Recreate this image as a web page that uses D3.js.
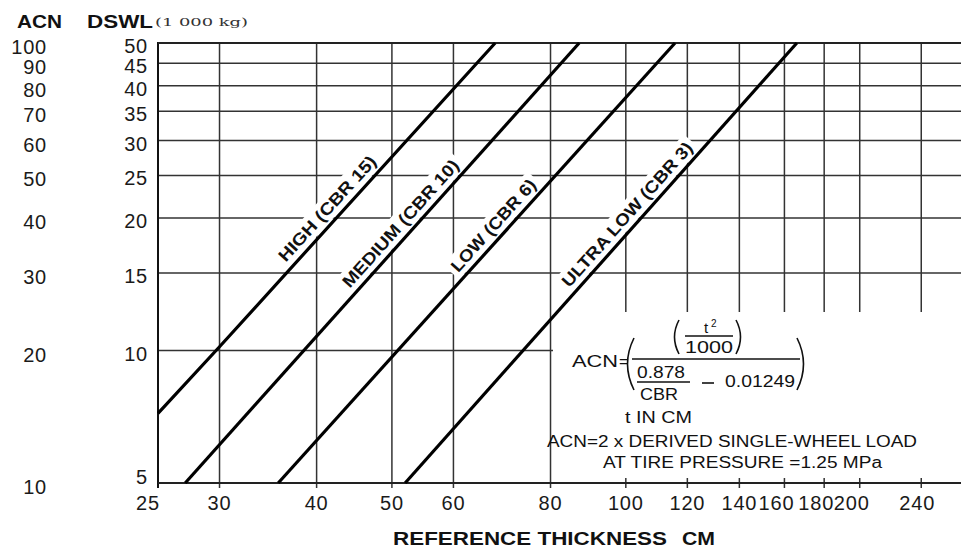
<!DOCTYPE html>
<html><head><meta charset="utf-8">
<script src="https://cdn.jsdelivr.net/npm/d3@7"></script>
<style>body{margin:0;background:#fff}svg{display:block}</style>
</head><body><svg id="c" width="961" height="548"></svg>
<script>
// ---- data ----
const xTicks = [25,30,40,50,60,80,100,120,140,160,180,200,240];
const dswlTicks = [5,10,15,20,25,30,35,40,45,50];
const acnTicks = [10,20,30,40,50,60,70,80,90,100];
const seriesNames = ["HIGH (CBR 15)","MEDIUM (CBR 10)","LOW (CBR 6)","ULTRA LOW (CBR 3)"];
const seriesThickness = [[25,30,67.9],[27.1,87.1],[35.7,115.7],[52,166]];
const seriesDSWL = [[7.2,10.2,50],[5,50],[5,50],[5,50]];

// ---- layout ----
const svg = d3.select("#c");
const x = d3.scaleLog().domain([25,270]).range([158,961]);
const y = d3.scaleLog().domain([5,50]).range([483,43]);
const FONT = "'Liberation Sans', Arial, sans-serif";
const GRID = "#333";

const g = svg.append("g");
// vertical grid
g.selectAll("line.v").data(xTicks.slice(1)).join("line")
  .attr("x1",d=>x(d)).attr("x2",d=>x(d)).attr("y1",y(50)).attr("y2",y(5)+5)
  .attr("stroke",GRID).attr("stroke-width",1.5);
// horizontal grid
g.selectAll("line.h").data(dswlTicks.slice(1)).join("line")
  .attr("x1",x(25)).attr("x2",961).attr("y1",d=>y(d)).attr("y2",d=>y(d))
  .attr("stroke",GRID).attr("stroke-width",1.5);
// axes
g.append("line").attr("x1",x(25)).attr("x2",x(25)).attr("y1",y(50)-1).attr("y2",y(5)+5)
  .attr("stroke","#111").attr("stroke-width",2);
g.append("line").attr("x1",x(25)).attr("x2",961).attr("y1",y(5)).attr("y2",y(5))
  .attr("stroke","#222").attr("stroke-width",1.8);
g.append("line").attr("x1",x(25)).attr("x2",961).attr("y1",y(50)).attr("y2",y(50))
  .attr("stroke","#222").attr("stroke-width",1.8);

// white formula area
svg.append("rect").attr("x",553).attr("y",312).attr("width",408).attr("height",166).attr("fill","#fff");

// series labels
const labelAt = [20.1,18.6,18.4,19.5];
const labelLen = [136,165,118,187];
const series = seriesNames.map((n,i)=>({name:n, pts:seriesThickness[i].map((t,j)=>[t,seriesDSWL[i][j]])}));
series.forEach((s,i)=>{
  const a = s.pts[0], b = s.pts[s.pts.length-1];
  const p0=[x(a[0]),y(a[1])], p1=[x(b[0]),y(b[1])];
  const ang = Math.atan2(p1[1]-p0[1], p1[0]-p0[0]);
  const py = y(labelAt[i]);
  const f = (py-p0[1])/(p1[1]-p0[1]);
  const px = p0[0]+f*(p1[0]-p0[0]);
  const off = 13;
  const nx = Math.sin(ang)*off, ny = -Math.cos(ang)*off;
  const cx = px + nx, cy = py + ny;
  const lg = svg.append("g").attr("transform",`translate(${cx},${cy}) rotate(${ang*180/Math.PI})`);
  const t = lg.append("text").text(s.name).attr("text-anchor","middle").attr("dy","0.36em")
    .attr("font-family",FONT).attr("font-size",17).attr("font-weight","bold").attr("fill","#111")
    .attr("textLength",labelLen[i]).attr("lengthAdjust","spacingAndGlyphs");
  const bb = t.node().getBBox();
  lg.insert("rect","text").attr("x",-labelLen[i]/2-4).attr("y",bb.y-2).attr("width",labelLen[i]+8).attr("height",bb.height+3).attr("fill","#fff");
});

// curves
const line = d3.line().x(d=>x(d[0])).y(d=>y(d[1]));
svg.selectAll("path.s").data(series).join("path")
  .attr("d",d=>line(d.pts)).attr("fill","none").attr("stroke","#000").attr("stroke-width",3.2);

// tick labels
const xdx = {25:-10,160:-8,180:-8,200:-8,240:-4};
svg.selectAll("text.xt").data(xTicks).join("text")
  .attr("x",d=>x(d)+(xdx[d]||0)).attr("y",510).attr("text-anchor","middle")
  .attr("font-family",FONT).attr("font-size",20).attr("letter-spacing",0.8).attr("fill","#1a1a1a").text(d=>d);
svg.selectAll("text.yt").data(dswlTicks).join("text")
  .attr("x",148).attr("y",d=>y(d)+(d===5?-6:3)).attr("dy","0.35em").attr("text-anchor","end")
  .attr("font-family",FONT).attr("font-size",20).attr("letter-spacing",0.8).attr("fill","#1a1a1a").text(d=>d);
svg.selectAll("text.at").data(acnTicks).join("text")
  .attr("x",47).attr("y",d=>y(d/2)+4).attr("dy","0.35em").attr("text-anchor","end")
  .attr("font-family",FONT).attr("font-size",20).attr("letter-spacing",0.8).attr("fill","#1a1a1a").text(d=>d);

// header
function txt(s,x0,y0,size,opts={}){
  const t = svg.append("text").attr("x",x0).attr("y",y0).text(s)
    .attr("font-family",opts.family||FONT).attr("font-size",size).attr("fill","#111")
    .attr("font-weight",opts.bold?"bold":"normal");
  if(opts.len) t.attr("textLength",opts.len).attr("lengthAdjust","spacingAndGlyphs");
  if(opts.anchor) t.attr("text-anchor",opts.anchor);
  return t;
}
txt("ACN",17,28,18,{bold:true,len:45});
txt("DSWL",87,28,18,{bold:true,len:66});
txt("(1 000 kg)",155,26,11,{family:"'DejaVu Serif', serif",len:93}).attr("fill","#333");
txt("REFERENCE THICKNESS",393,545,18,{bold:true,len:274});
txt("CM",682,545,18,{bold:true,len:33});

// formula
txt("ACN",572,367,16,{len:46});
txt("=",619,367,16);
const pth = svg.append("g").attr("fill","none").attr("stroke","#111").attr("stroke-width",1.6);
pth.append("path").attr("d","M634 338 Q621 364 634 390");
pth.append("path").attr("d","M797 338 Q810 364 797 390");
pth.append("path").attr("d","M679 320 Q670 337 679 354");
pth.append("path").attr("d","M736 320 Q745 337 736 354");
pth.append("line").attr("x1",685).attr("x2",733).attr("y1",336).attr("y2",336);
pth.append("line").attr("x1",632).attr("x2",800).attr("y1",359).attr("y2",359);
pth.append("line").attr("x1",637).attr("x2",690).attr("y1",382).attr("y2",382);
pth.append("line").attr("x1",702).attr("x2",714).attr("y1",383).attr("y2",383);
txt("t",704,333,15);
txt("2",711,327,10);
txt("1000",685,353,17,{len:48});
txt("0.878",637,378,16,{len:48});
txt("CBR",640,400,16,{len:38});
txt("0.01249",725,387,16,{len:70});
txt("t IN CM",625,423,16,{len:67});
txt("ACN=2 x DERIVED SINGLE-WHEEL LOAD",547,447,16,{len:370});
txt("AT TIRE PRESSURE =1.25 MPa",603,468,16,{len:279});
</script></body></html>
